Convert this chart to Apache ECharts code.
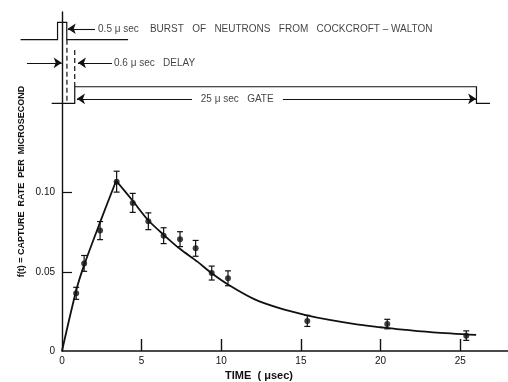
<!DOCTYPE html>
<html>
<head>
<meta charset="utf-8">
<script src="https://cdn.jsdelivr.net/npm/echarts@6/dist/echarts.min.js"></script>
<style>
html,body{margin:0;padding:0;background:#fff;}
#chart{width:508px;height:382px;}
</style>
</head>
<body>
<div id="chart"></div>
<script>
// measured capture rate f(t) with error bars
var timeX   = [0.89, 1.39, 2.39, 3.43, 4.44, 5.42, 6.38, 7.41, 8.39, 9.40, 10.42, 15.4, 20.42, 25.38];
var rateY   = [0.0364, 0.0553, 0.0760, 0.1069, 0.0935, 0.0819, 0.0728, 0.0706, 0.0648, 0.0492, 0.0459, 0.0190, 0.0170, 0.0097];
var rateErr = [0.0038, 0.0050, 0.0057, 0.0066, 0.0060, 0.0053, 0.0050, 0.0047, 0.0050, 0.0044, 0.0047, 0.0035, 0.0030, 0.0030];

// fitted curve, rising part and decay part
var riseX = [0, 0.9, 1.4, 2.4, 3.4];
var riseY = [0, 0.0385, 0.0545, 0.0815, 0.1075];
var fallX = [3.4, 4.4, 5.4, 6.4, 7.4, 8.5, 9.4, 10.5, 12.1, 13.7, 15.3, 16.8, 18.4, 20, 21.2, 23.3, 26];
var fallY = [0.1075, 0.0953, 0.0827, 0.0732, 0.0645, 0.0564, 0.0491, 0.0415, 0.0326, 0.0269, 0.0227, 0.0196, 0.0170, 0.0150, 0.0136, 0.0118, 0.0102];

// timing diagram, drawn in the same (usec, rate) units
var burstX = [-2.6, -0.28, -0.28, 0.3, 0.3, 4.15];
var burstY = [0.1965, 0.1965, 0.2074, 0.2074, 0.1965, 0.1965];
var gateX  = [-0.65, 0.8, 0.8, 26.02, 26.02, 26.87];
var gateY  = [0.1563, 0.1563, 0.1668, 0.1668, 0.1563, 0.1563];
var dashX  = [[0.31, 0.31], [0.8, 0.8]];
var dashY  = [[0.1965, 0.1567], [0.190, 0.1668]];

// arrows (head at the "to" end)
var arrowFromX = [2.07, -2.2, 3.14, 8.16, 13.87];
var arrowFromY = [0.2034, 0.1819, 0.1819, 0.1592, 0.1592];
var arrowToX   = [0.36, -0.02, 1.0, 0.94, 26.0];
var arrowToY   = [0.2034, 0.1819, 0.1819, 0.1592, 0.1592];

// annotations
var noteText  = ['0.5 \u03bc sec    BURST   OF   NEUTRONS   FROM   COCKCROFT \u2013 WALTON', '0.6 \u03bc sec   DELAY', '25 \u03bc sec   GATE'];
var noteX     = [2.2, 3.2, 11.0];
var noteY     = [0.2034, 0.1819, 0.1592];
var noteAlign = ['left', 'left', 'center'];

// tick labels
var xTicks = [0, 5, 10, 15, 20, 25];
var yTicks = [0, 0.05, 0.1];
var yTickText = ['0', '0.05', '0.10'];

var ink = '#111';
var font = 'Liberation Sans';

function pairs(xs, ys) {
	var out = [];
	for (var i = 0; i < xs.length; i++) out.push([xs[i], ys[i]]);
	return out;
}

var myChart = echarts.init(document.getElementById('chart'));

// timing traces as polylines (they run past the left edge of the grid)
var traceData = [
	{ coords: pairs(burstX, burstY) },
	{ coords: pairs(gateX, gateY) },
	{ coords: pairs(dashX[0], dashY[0]), lineStyle: { type: [5, 3] } },
	{ coords: pairs(dashX[1], dashY[1]), lineStyle: { type: [5, 3] } }
];

var arrowData = [];
for (var i = 0; i < arrowFromX.length; i++) {
	arrowData.push({ coords: [[arrowFromX[i], arrowFromY[i]], [arrowToX[i], arrowToY[i]]] });
}

var noteData = [];
for (var j = 0; j < noteText.length; j++) {
	noteData.push({
		value: [noteX[j], noteY[j]],
		label: { formatter: noteText[j], position: noteAlign[j] === 'center' ? 'inside' : 'right', distance: 1 }
	});
}

var errData = [];
for (var k = 0; k < timeX.length; k++) errData.push([timeX[k], rateY[k], rateErr[k]]);

var option = {
	backgroundColor: '#fff',
	animation: false,
	grid: { left: 62, right: 0, top: 12, bottom: 31, outerBoundsMode: 'none' },
	xAxis: {
		type: 'value', min: 0, max: 28, interval: 5,
		name: 'TIME  ( \u03bcsec)', nameLocation: 'middle', nameGap: 19, nameMoveOverlap: false,
		nameTextStyle: { color: ink, fontFamily: font, fontSize: 11, fontWeight: 'bold', padding: [0, 52, 0, 0] },
		axisLine: { lineStyle: { color: ink, width: 1.6 } },
		axisTick: { inside: true, length: 12, customValues: [5, 10, 15, 20, 25], lineStyle: { color: ink, width: 1.4 } },
		axisLabel: { customValues: xTicks, color: ink, fontFamily: font, fontSize: 10, margin: 5 },
		splitLine: { show: false }
	},
	yAxis: {
		type: 'value', min: 0, max: 0.214, interval: 0.05,
		name: 'f(t) = CAPTURE  RATE  PER  MICROSECOND', nameLocation: 'middle', nameGap: 36, nameRotate: 90,
		nameMoveOverlap: false,
		nameTextStyle: { color: ink, fontFamily: font, fontSize: 9, fontWeight: 'bold' },
		axisLine: { lineStyle: { color: ink, width: 1.4 } },
		axisTick: { inside: true, length: 10, customValues: [0.05, 0.1], lineStyle: { color: ink, width: 1.2 } },
		axisLabel: {
			customValues: yTicks, color: ink, fontFamily: font, fontSize: 10, margin: 7,
			formatter: function (v) { var i = yTicks.indexOf(v); return i >= 0 ? yTickText[i] : ''; }
		},
		splitLine: { show: false }
	},
	series: [
		{
			type: 'lines', coordinateSystem: 'cartesian2d', polyline: true, clip: false, silent: true, z: 3,
			lineStyle: { color: ink, width: 1.2, opacity: 1 },
			data: traceData
		},
		{
			type: 'lines', coordinateSystem: 'cartesian2d', clip: false, silent: true, z: 3,
			symbol: ['none', 'arrow'], symbolSize: [5, 8],
			lineStyle: { color: ink, width: 1.1, opacity: 1 },
			data: arrowData
		},
		{
			type: 'scatter', data: noteData, symbolSize: 0, clip: false, silent: true, z: 4,
			label: { show: true, color: ink, fontFamily: font, fontSize: 10 }
		},
		{
			type: 'line', data: pairs(riseX, riseY), smooth: 0.3, showSymbol: false, silent: true,
			lineStyle: { color: ink, width: 1.8 }, z: 5
		},
		{
			type: 'line', data: pairs(fallX, fallY), smooth: 0.3, showSymbol: false, silent: true,
			lineStyle: { color: ink, width: 1.8 }, z: 5
		},
		{
			type: 'custom', data: errData, silent: true, z: 6,
			renderItem: function (params, api) {
				var x = api.value(0), y = api.value(1), e = api.value(2);
				var top = api.coord([x, y + e]);
				var bot = api.coord([x, y - e]);
				var cap = 3;
				var st = { stroke: ink, lineWidth: 1.2 };
				return {
					type: 'group',
					children: [
						{ type: 'line', shape: { x1: top[0], y1: top[1], x2: bot[0], y2: bot[1] }, style: st },
						{ type: 'line', shape: { x1: top[0] - cap, y1: top[1], x2: top[0] + cap, y2: top[1] }, style: st },
						{ type: 'line', shape: { x1: bot[0] - cap, y1: bot[1], x2: bot[0] + cap, y2: bot[1] }, style: st }
					]
				};
			}
		},
		{
			type: 'scatter', data: pairs(timeX, rateY), symbol: 'circle', symbolSize: 6, silent: true, z: 7,
			itemStyle: { color: ink }
		}
	]
};

myChart.setOption(option);
</script>
</body>
</html>
